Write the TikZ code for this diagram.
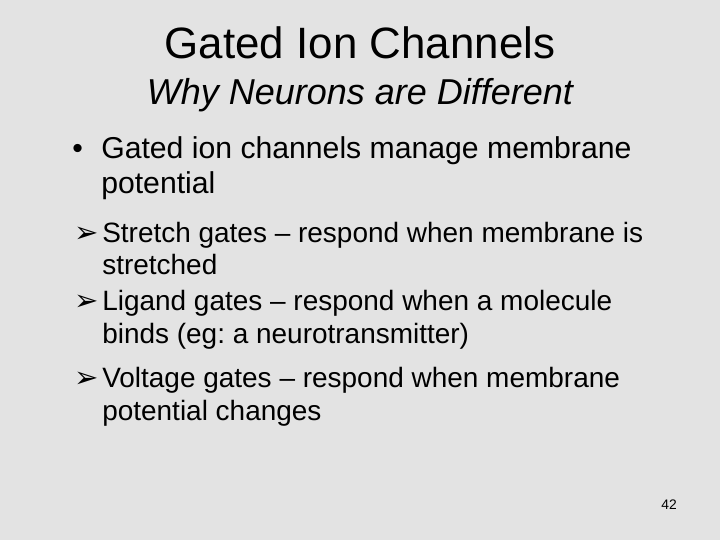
\documentclass[tikz,border=0pt]{standalone}
\usepackage{fontspec}
\setmainfont{Liberation Sans}
\newfontfamily\arrowfont{DejaVu Sans}
\frenchspacing
\definecolor{slidegray}{HTML}{E3E3E3}
\tikzset{
  line/.style={anchor=base west, inner sep=0pt, font=\fontsize{20.2}{24}\selectfont},
  topline/.style={anchor=base west, inner sep=0pt, font=\fontsize{21.8}{26}\selectfont}
}
\begin{document}
\begin{tikzpicture}[x=0.01in,y=-0.01in]
  %Nền
  \fill[slidegray] (0,0) rectangle (720,540);
  \useasboundingbox (0,0) rectangle (720,540);
  %Tiêu đề
  \node[anchor=base, inner sep=0pt, font=\fontsize{31.7}{36}\selectfont] (title) at (360,58) {Gated Ion Channels};
  \node[anchor=base, inner sep=0pt, font=\fontsize{26}{30}\selectfont\itshape] (subtitle) at (360,104) {Why Neurons are Different};
  %Mục chính
  \node[topline] (dot) at (72,158) {•};
  \node[topline] (main1) at (101,158) {Gated ion channels manage membrane};
  \node[topline] (main2) at (101,193) {potential};
  %Mục phụ
  \foreach \yy/\nm in {242/a,310/b,387/c}
    \node[line, font=\fontsize{21}{24}\arrowfont] (arr\nm) at (74,\yy) {➢};
  \node[line] (s1a) at (102,242) {Stretch gates – respond when membrane is};
  \node[line] (s1b) at (102,274) {stretched};
  \node[line] (s2a) at (102,310) {Ligand gates – respond when a molecule};
  \node[line] (s2b) at (102,343) {binds (eg: a neurotransmitter)};
  \node[line] (s3a) at (102,387) {Voltage gates – respond when membrane};
  \node[line] (s3b) at (102,420) {potential changes};
  %Số trang
  \node[anchor=base east, inner sep=0pt, font=\fontsize{10}{12}\selectfont] (page) at (677,509) {42};
\end{tikzpicture}
\end{document}
